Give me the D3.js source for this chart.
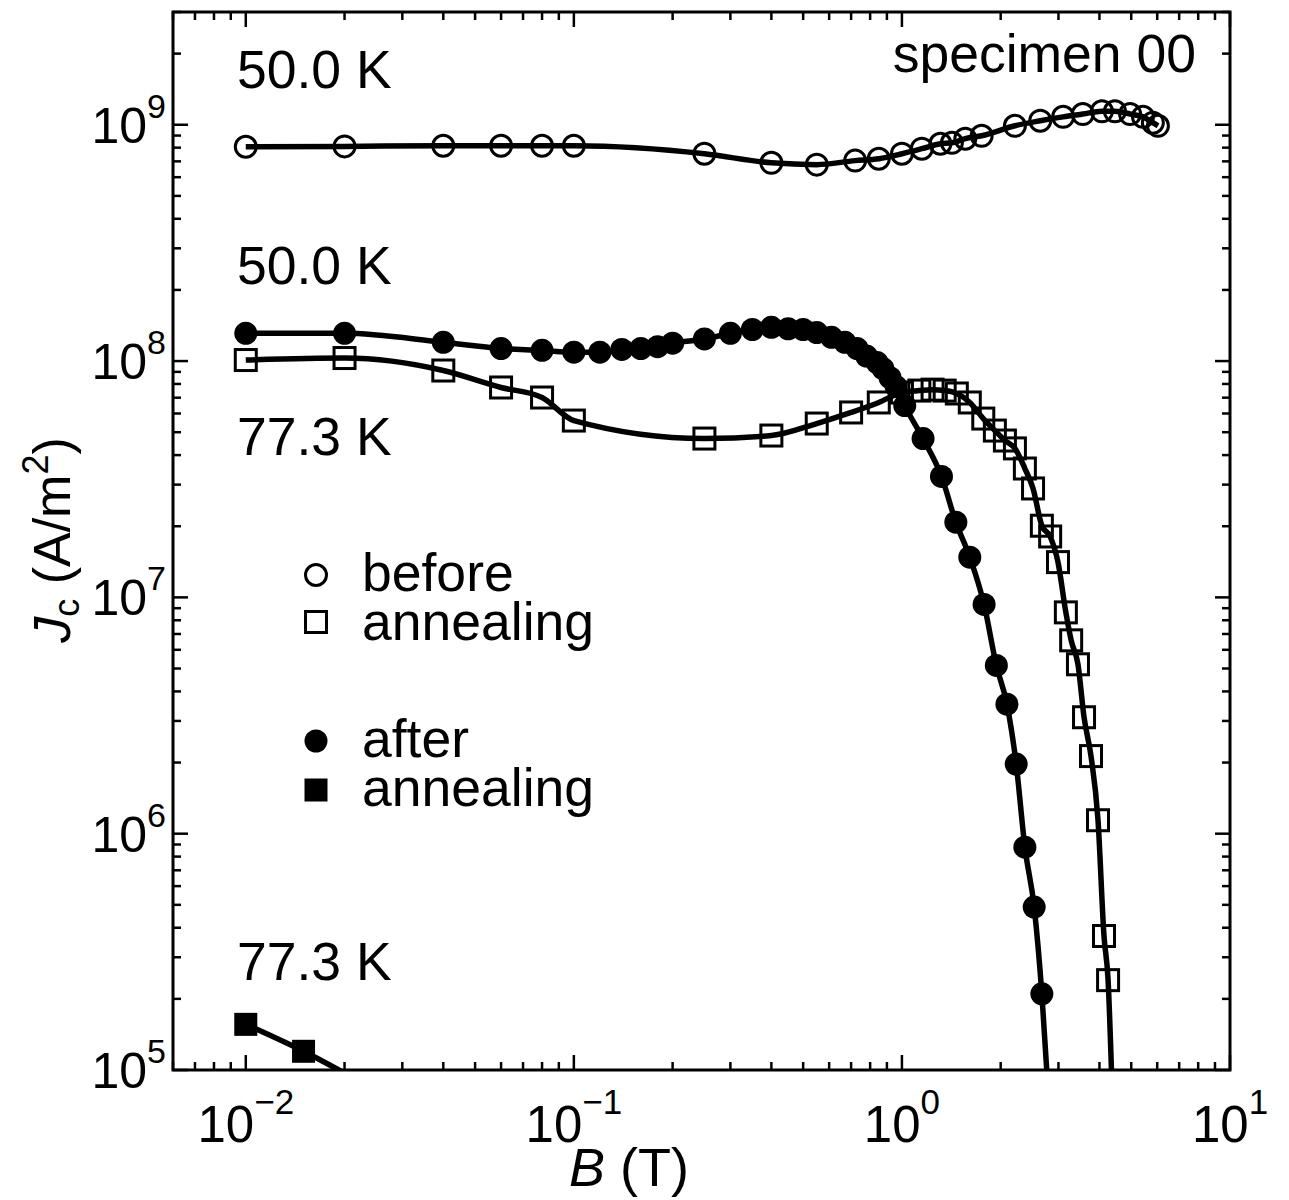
<!DOCTYPE html>
<html>
<head>
<meta charset="utf-8">
<title>Jc vs B</title>
<script src="https://cdn.jsdelivr.net/npm/d3@7/dist/d3.min.js"></script>
<style>
  body { margin: 0; background: #fff; }
  text { font-family: "Liberation Sans", Arial, sans-serif; fill: #000; }
</style>
</head>
<body>
<script>
// ---- data ----
// 50.0 K, before annealing (open circles)
var bBefore50 = [0.01, 0.02, 0.04, 0.06, 0.08, 0.1, 0.25, 0.4, 0.55, 0.72, 0.85, 1.0, 1.15, 1.31, 1.42,
                 1.56, 1.75, 2.21, 2.64, 3.1, 3.56, 4.07, 4.46, 4.96, 5.43, 5.82, 6.03];
var jBefore50 = [8.07e8, 8.1e8, 8.15e8, 8.15e8, 8.15e8, 8.15e8, 7.54e8, 6.9e8, 6.78e8, 7.05e8, 7.18e8, 7.54e8, 7.92e8, 8.31e8, 8.39e8,
                 8.73e8, 8.98e8, 9.9e8, 1.04e9, 1.08e9, 1.11e9, 1.14e9, 1.14e9, 1.11e9, 1.08e9, 1.02e9, 9.9e8];

// 50.0 K, after annealing (filled circles)
var bAfter50 = [0.01, 0.02, 0.04, 0.06, 0.08, 0.1, 0.12, 0.14, 0.16, 0.18, 0.2, 0.25, 0.3, 0.35, 0.4, 0.45,
                0.5, 0.55, 0.61, 0.67, 0.73, 0.78, 0.84, 0.875, 0.92, 0.96, 1.02, 1.16, 1.32, 1.46, 1.61,
                1.78, 1.94, 2.09, 2.23, 2.37, 2.53, 2.67];
var jAfter50 = [1.31e8, 1.31e8, 1.2e8, 1.13e8, 1.11e8, 1.09e8, 1.09e8, 1.12e8, 1.13e8, 1.15e8, 1.19e8, 1.24e8, 1.31e8, 1.36e8, 1.39e8, 1.37e8,
                1.36e8, 1.32e8, 1.26e8, 1.2e8, 1.13e8, 1.05e8, 9.86e7, 9.3e7, 8.5e7, 7.8e7, 6.48e7, 4.7e7, 3.25e7, 2.08e7, 1.48e7,
                9.34e6, 5.15e6, 3.53e6, 1.97e6, 8.77e5, 4.89e5, 2.1e5];
var tailAfter50 = [[2.8, 7.5e4]];

// 77.3 K, before annealing (open squares)
var bBefore77 = [0.01, 0.02, 0.04, 0.06, 0.08, 0.1, 0.25, 0.4, 0.55, 0.7, 0.85, 1.0, 1.13, 1.24, 1.35, 1.47,
                 1.61, 1.77, 1.92, 2.06, 2.21, 2.37, 2.51, 2.67, 2.83, 2.99, 3.16, 3.28, 3.44, 3.59, 3.77,
                 3.96, 4.13, 4.25];
var jBefore77 = [1.01e8, 1.03e8, 9.12e7, 7.73e7, 7.01e7, 5.6e7, 4.7e7, 4.84e7, 5.44e7, 6.06e7, 6.68e7, 7.36e7, 7.5e7, 7.57e7, 7.5e7, 7.29e7,
                 6.68e7, 5.71e7, 5.08e7, 4.61e7, 4.27e7, 3.51e7, 2.89e7, 2.01e7, 1.81e7, 1.41e7, 8.64e6, 6.58e6, 5.21e6, 3.11e6, 2.13e6,
                 1.14e6, 3.69e5, 2.4e5];
var tailBefore77 = [[4.38, 7.5e4]];

// 77.3 K, after annealing (filled squares)
var bAfter77 = [0.01, 0.015];
var jAfter77 = [1.56e5, 1.2e5];
var tailAfter77 = [[0.02, 9.7e4]];

var xMajor = [0.01, 0.1, 1, 10];
var xMajorExp = ["\u22122", "\u22121", "0", "1"];
var yMajor = [1e5, 1e6, 1e7, 1e8, 1e9];
var yMajorExp = ["5", "6", "7", "8", "9"];

// ---- layout ----
var W = 1289, H = 1200;
var pL = 173, pR = 1230, pT = 12, pB = 1070;

var svg = d3.select("body").append("svg")
    .attr("width", W).attr("height", H);

var x = d3.scaleLog().domain([0.006, 10]).range([pL, pR]);
var y = d3.scaleLog().domain([1e5, 3e9]).range([pB, pT]);

function minors(lo, hi) {
    var out = [];
    for (var e = Math.floor(Math.log10(lo)); e <= Math.ceil(Math.log10(hi)); e++) {
        for (var m = 2; m <= 9; m++) {
            var v = m * Math.pow(10, e);
            if (v >= lo * 0.999 && v <= hi * 1.001) out.push(v);
        }
    }
    return out;
}

svg.append("clipPath").attr("id", "plot")
    .append("rect").attr("x", pL).attr("y", pT)
    .attr("width", pR - pL).attr("height", pB - pT);

// ticks, all four sides pointing in
var tk = svg.append("g").attr("stroke", "#000").attr("stroke-width", 2.5);
var xMin = minors(0.006, 10), yMin = minors(1e5, 3e9);
function addXTicks(vals, len) {
    vals.forEach(function (v) {
        tk.append("line").attr("x1", x(v)).attr("x2", x(v)).attr("y1", pB).attr("y2", pB - len);
        tk.append("line").attr("x1", x(v)).attr("x2", x(v)).attr("y1", pT).attr("y2", pT + len);
    });
}
function addYTicks(vals, len) {
    vals.forEach(function (v) {
        tk.append("line").attr("y1", y(v)).attr("y2", y(v)).attr("x1", pL).attr("x2", pL + len);
        tk.append("line").attr("y1", y(v)).attr("y2", y(v)).attr("x1", pR).attr("x2", pR - len);
    });
}
addXTicks(xMajor, 15); addXTicks(xMin, 8);
addYTicks(yMajor, 15); addYTicks(yMin, 8);

// frame
svg.append("rect").attr("x", pL).attr("y", pT)
    .attr("width", pR - pL).attr("height", pB - pT)
    .attr("fill", "none").attr("stroke", "#000").attr("stroke-width", 3);

// tick labels
xMajor.forEach(function (v, i) {
    var t = svg.append("text").attr("x", x(v)).attr("y", 1142)
        .attr("text-anchor", "middle").attr("font-size", 51);
    t.append("tspan").text("10");
    t.append("tspan").attr("dy", -28).attr("font-size", 35).text(xMajorExp[i]);
});
yMajor.forEach(function (v, i) {
    var t = svg.append("text").attr("x", 166).attr("y", y(v) + 18)
        .attr("text-anchor", "end").attr("font-size", 50);
    t.append("tspan").text("10");
    t.append("tspan").attr("dy", -25).attr("font-size", 34).text(yMajorExp[i]);
});

// axis titles
var xt = svg.append("text").attr("x", 629).attr("y", 1186)
    .attr("text-anchor", "middle").attr("font-size", 54);
xt.append("tspan").attr("font-style", "italic").text("B");
xt.append("tspan").text(" (T)");

var yt = svg.append("text").attr("transform", "translate(70,540) rotate(-90)")
    .attr("text-anchor", "middle").attr("font-size", 52);
yt.append("tspan").attr("font-style", "italic").text("J");
yt.append("tspan").attr("font-size", 36).attr("dy", 9).text("c");
yt.append("tspan").attr("dy", -9).text(" (A/m");
yt.append("tspan").attr("font-size", 36).attr("dy", -22).text("2");
yt.append("tspan").attr("dy", 22).text(")");

// ---- curves ----
function pts(bs, js, tail) {
    var p = bs.map(function (b, i) { return [b, js[i]]; });
    return tail ? p.concat(tail) : p;
}
var lineMono = d3.line().x(function (d) { return x(d[0]); }).y(function (d) { return y(d[1]); })
    .curve(d3.curveMonotoneX);

var lines = svg.append("g").attr("clip-path", "url(#plot)")
    .attr("fill", "none").attr("stroke", "#000").attr("stroke-width", 5.5)
    .attr("stroke-linejoin", "round");
lines.append("path").attr("d", lineMono(pts(bBefore50, jBefore50)));
lines.append("path").attr("d", lineMono(pts(bAfter50, jAfter50, tailAfter50)));
lines.append("path").attr("d", lineMono(pts(bBefore77, jBefore77, tailBefore77)));
lines.append("path").attr("d", lineMono(pts(bAfter77, jAfter77, tailAfter77)));

// ---- markers ----
var mk = svg.append("g");
mk.selectAll("circle.open").data(pts(bBefore50, jBefore50)).enter().append("circle")
    .attr("cx", function (d) { return x(d[0]); }).attr("cy", function (d) { return y(d[1]); })
    .attr("r", 10.5).attr("fill", "none").attr("stroke", "#000").attr("stroke-width", 3);
mk.selectAll("rect.open").data(pts(bBefore77, jBefore77)).enter().append("rect")
    .attr("x", function (d) { return x(d[0]) - 10.5; }).attr("y", function (d) { return y(d[1]) - 10.5; })
    .attr("width", 21).attr("height", 21)
    .attr("fill", "none").attr("stroke", "#000").attr("stroke-width", 3);
mk.selectAll("circle.filled").data(pts(bAfter50, jAfter50)).enter().append("circle")
    .attr("cx", function (d) { return x(d[0]); }).attr("cy", function (d) { return y(d[1]); })
    .attr("r", 11.5).attr("fill", "#000");
mk.selectAll("rect.filled").data(pts(bAfter77, jAfter77)).enter().append("rect")
    .attr("x", function (d) { return x(d[0]) - 11.5; }).attr("y", function (d) { return y(d[1]) - 11.5; })
    .attr("width", 23).attr("height", 23).attr("fill", "#000");

// ---- annotations ----
function label(tx, ty, s, anchor) {
    svg.append("text").attr("x", tx).attr("y", ty).attr("font-size", 53.5)
        .attr("text-anchor", anchor || "start").text(s);
}
label(237, 88, "50.0 K");
label(237, 284, "50.0 K");
label(237, 455, "77.3 K");
label(237, 980, "77.3 K");
label(1196, 72, "specimen 00", "end");

// legend
svg.append("circle").attr("cx", 316).attr("cy", 575).attr("r", 10.5)
    .attr("fill", "none").attr("stroke", "#000").attr("stroke-width", 3);
label(362, 591, "before");
svg.append("rect").attr("x", 305.5).attr("y", 611.5).attr("width", 21).attr("height", 21)
    .attr("fill", "none").attr("stroke", "#000").attr("stroke-width", 3);
label(362, 640, "annealing");
svg.append("circle").attr("cx", 316).attr("cy", 741).attr("r", 11.5).attr("fill", "#000");
label(362, 757, "after");
svg.append("rect").attr("x", 304.5).attr("y", 778.5).attr("width", 23).attr("height", 23).attr("fill", "#000");
label(362, 806, "annealing");
</script>
</body>
</html>
